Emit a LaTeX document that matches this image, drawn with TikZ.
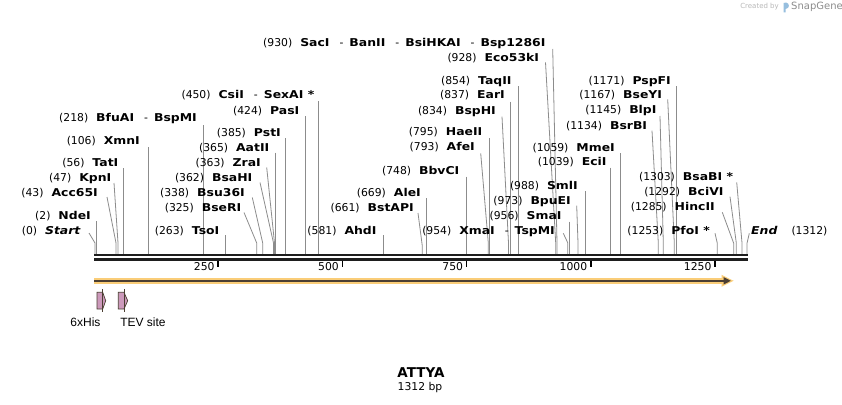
\documentclass[tikz,border=0pt]{standalone}
\usepackage{fontspec}
\setmainfont{DejaVu Sans}[BoldFeatures={FakeStretch=1.15},BoldItalicFeatures={FakeStretch=1.15}]
\newfontfamily\titlef{DejaVu Sans Bold}
\newfontfamily\arialf{Liberation Sans}
\definecolor{leadc}{RGB}{140,140,140}
\definecolor{bbc}{RGB}{30,30,30}
\definecolor{orangec}{RGB}{250,205,120}
\definecolor{featline}{RGB}{75,62,50}
\definecolor{pinkc}{RGB}{204,153,187}
\definecolor{logoc}{RGB}{150,190,222}
\tikzset{
  lab/.style={inner sep=0pt, text height=8pt, text depth=0pt, font=\fontsize{10.8}{12}\selectfont},
  lead/.style={draw=leadc, line width=0.8pt},
  tickm/.style={draw=black, line width=1.6pt},
  ticklab/.style={inner sep=0pt, text height=8pt, text depth=0pt, anchor=east, font=\fontsize{10.8}{12}\selectfont},
  featlab/.style={inner sep=0pt, font=\arialf\fontsize{12}{13}\selectfont},
  pinkfeat/.style={fill=pinkc, draw=featline, line width=0.7pt}
}
\newcommand\nm[1]{\textbf{#1}}
\newcommand\gap{\hspace{8pt}}
\newcommand\sep{\hspace{10pt}-\hspace{6pt}}
\begin{document}
\begin{tikzpicture}[x=1pt,y=-1pt]
\useasboundingbox (0,0) rectangle (842,404);
\fill[white] (0,0) rectangle (842,404);
% Created by SnapGene
\node[inner sep=0pt, anchor=east, text=black!28, font=\fontsize{7}{8}\selectfont] (cb) at (779,7) {Created by};
\fill[logoc] (783.5,12.5) -- (783.5,3) -- (786,2.5) .. controls (789.8,3) and (789.8,8.5) .. (786,8.8) -- (785.6,8.8) -- (785.6,12.5) -- cycle;
\node[inner sep=0pt, anchor=west, text=black!45, font=\fontsize{10}{11}\selectfont] (sg) at (791,7) {SnapGene};

% leader lines
\draw[lead] (89,233) -- (95,243) -- (95,254.5);
\draw[lead] (96,221) -- (96,254.5);
\draw[lead] (107,197) -- (116,243) -- (116,254.5);
\draw[lead] (114,183) -- (118,243) -- (118,254.5);
\draw[lead] (123,168) -- (123,254.5);
\draw[lead] (148,147) -- (148,254.5);
\draw[lead] (203,125) -- (203,254.5);
\draw[lead] (225.5,235) -- (225.5,254.5);
\draw[lead] (244,212.5) -- (256.7,243) -- (256.7,254.5);
\draw[lead] (252.3,197.5) -- (262.7,243) -- (262.7,254.5);
\draw[lead] (260,182.5) -- (273.5,243) -- (273.5,254.5);
\draw[lead] (266.7,167.5) -- (274.5,243) -- (274.5,254.5);
\draw[lead] (275.5,152.7) -- (275.5,254.5);
\draw[lead] (285.5,138) -- (285.5,254.5);
\draw[lead] (305.7,116) -- (305.7,254.5);
\draw[lead] (318.5,101) -- (318.5,254.5);
\draw[lead] (383.3,235) -- (383.3,254.5);
\draw[lead] (418,213) -- (422.3,246) -- (422.3,254.5);
\draw[lead] (426.5,198) -- (426.5,254.5);
\draw[lead] (466.5,176.5) -- (466.5,254.5);
\draw[lead] (480.7,153.3) -- (488.3,243) -- (488.3,254.5);
\draw[lead] (489.5,138.3) -- (489.5,254.5);
\draw[lead] (502,116.7) -- (508.5,243) -- (508.5,254.5);
\draw[lead] (510.7,101.7) -- (510.7,254.5);
\draw[lead] (518.7,86) -- (518.7,254.5);
\draw[lead] (552.7,49) -- (557,243) -- (557,254.5);
\draw[lead] (545.5,62.3) -- (555.7,243) -- (555.7,254.5);
\draw[lead] (563.3,233.3) -- (567.7,242.7) -- (567.7,254.5);
\draw[lead] (569.3,221.7) -- (569.3,254.5);
\draw[lead] (576.7,205.7) -- (578,243) -- (578,254.5);
\draw[lead] (585.3,191) -- (585.3,254.5);
\draw[lead] (610.7,167.7) -- (610.7,254.5);
\draw[lead] (620.3,153) -- (620.3,254.5);
\draw[lead] (652,130.7) -- (658.3,243) -- (658.3,254.5);
\draw[lead] (660,116) -- (663.3,243) -- (663.3,254.5);
\draw[lead] (667.7,99.3) -- (674.3,243) -- (674.3,254.5);
\draw[lead] (676,86) -- (676,254.5);
\draw[lead] (715,233.3) -- (717.3,243.3) -- (717.3,254.5);
\draw[lead] (722.3,212.3) -- (733.7,243.3) -- (733.7,254.5);
\draw[lead] (730,196.7) -- (736.3,243) -- (736.3,254.5);
\draw[lead] (736.7,182.3) -- (742,243) -- (742,254.5);
\draw[lead] (749.3,233.3) -- (747,243.3) -- (747,254.5);

% site labels
\node[lab,anchor=east] (s0) at (81,230) {(0)\gap\textbf{\textit{Start}}};
\node[lab,anchor=east] (s2) at (91,215) {(2)\gap\nm{NdeI}};
\node[lab,anchor=east] (s43) at (98,192) {(43)\gap\nm{Acc65I}};
\node[lab,anchor=east] (s47) at (111.5,177) {(47)\gap\nm{KpnI}};
\node[lab,anchor=east] (s56) at (118.5,162) {(56)\gap\nm{TatI}};
\node[lab,anchor=east] (s106) at (140,140) {(106)\gap\nm{XmnI}};
\node[lab,anchor=east] (s218) at (197,117) {(218)\gap\nm{BfuAI}\sep\nm{BspMI}};
\node[lab,anchor=east] (s263) at (219.5,230) {(263)\gap\nm{TsoI}};
\node[lab,anchor=east] (s325) at (241.5,207) {(325)\gap\nm{BseRI}};
\node[lab,anchor=east] (s338) at (245,192) {(338)\gap\nm{Bsu36I}};
\node[lab,anchor=east] (s362) at (252.5,177) {(362)\gap\nm{BsaHI}};
\node[lab,anchor=east] (s363) at (261,162) {(363)\gap\nm{ZraI}};
\node[lab,anchor=east] (s365) at (269.5,147) {(365)\gap\nm{AatII}};
\node[lab,anchor=east] (s385) at (281,132) {(385)\gap\nm{PstI}};
\node[lab,anchor=east] (s424) at (299.5,110.5) {(424)\gap\nm{PasI}};
\node[lab,anchor=east] (s450) at (314.5,94.5) {(450)\gap\nm{CsiI}\sep\nm{SexAI *}};
\node[lab,anchor=east] (s581) at (376.7,230) {(581)\gap\nm{AhdI}};
\node[lab,anchor=east] (s661) at (414,207) {(661)\gap\nm{BstAPI}};
\node[lab,anchor=east] (s669) at (421,192) {(669)\gap\nm{AleI}};
\node[lab,anchor=east] (s748) at (459.5,170) {(748)\gap\nm{BbvCI}};
\node[lab,anchor=east] (s793) at (475,146.7) {(793)\gap\nm{AfeI}};
\node[lab,anchor=east] (s795) at (482.5,131.7) {(795)\gap\nm{HaeII}};
\node[lab,anchor=east] (s834) at (496,110) {(834)\gap\nm{BspHI}};
\node[lab,anchor=east] (s837) at (505,94.7) {(837)\gap\nm{EarI}};
\node[lab,anchor=east] (s854) at (511.7,80) {(854)\gap\nm{TaqII}};
\node[lab,anchor=east] (s930) at (545.7,42.3) {(930)\gap\nm{SacI}\sep\nm{BanII}\sep\nm{BsiHKAI}\sep\nm{Bsp1286I}};
\node[lab,anchor=east] (s928) at (539.3,57.3) {(928)\gap\nm{Eco53kI}};
\node[lab,anchor=east] (s954) at (555,230) {(954)\gap\nm{XmaI}\sep\nm{TspMI}};
\node[lab,anchor=east] (s956) at (561.7,215) {(956)\gap\nm{SmaI}};
\node[lab,anchor=east] (s973) at (571,200) {(973)\gap\nm{BpuEI}};
\node[lab,anchor=east] (s988) at (578,185) {(988)\gap\nm{SmlI}};
\node[lab,anchor=east] (s1039) at (606.7,161.7) {(1039)\gap\nm{EciI}};
\node[lab,anchor=east] (s1059) at (615,147.3) {(1059)\gap\nm{MmeI}};
\node[lab,anchor=east] (s1134) at (647.3,125) {(1134)\gap\nm{BsrBI}};
\node[lab,anchor=east] (s1145) at (656.7,109.3) {(1145)\gap\nm{BlpI}};
\node[lab,anchor=east] (s1167) at (662.3,94.3) {(1167)\gap\nm{BseYI}};
\node[lab,anchor=east] (s1171) at (671,80) {(1171)\gap\nm{PspFI}};
\node[lab,anchor=east] (s1253) at (710,230) {(1253)\gap\nm{PfoI *}};
\node[lab,anchor=east] (s1285) at (715,206.7) {(1285)\gap\nm{HincII}};
\node[lab,anchor=east] (s1292) at (723.7,191.7) {(1292)\gap\nm{BciVI}};
\node[lab,anchor=east] (s1303) at (733.3,176.7) {(1303)\gap\nm{BsaBI *}};
\node[lab,anchor=west] (send) at (751,230) {\textbf{\textit{End}}\hspace{14pt}(1312)};

% backbone
\draw[bbc, line width=2pt] (94,255.3) -- (748.3,255.3);
\draw[bbc, line width=2.4pt] (94,259.5) -- (748.3,259.5);
% ticks
\foreach \tx/\tl in {218/250, 342.3/500, 466.5/750, 590.7/1000, 714.9/1250}{
  \draw[tickm] (\tx,260.7) -- (\tx,267.2);
  \node[ticklab] at (\tx-3.3,266.5) {\tl};
}

% ORF feature arrow
\draw[orangec, line width=6pt] (94,280.8) -- (725,280.8);
\fill[orangec] (721.5,274.8) -- (733.6,280.8) -- (721.5,286.8) -- cycle;
\draw[featline, line width=2pt] (94,280.8) -- (725,280.8);
\fill[featline] (723.5,277) -- (730.8,280.8) -- (723.5,284.6) -- cycle;

% small features
\draw[pinkfeat] (97,292.3) -- (102.7,292.3) -- (105.7,300.7) -- (102.7,309) -- (97,309) -- cycle;
\draw[featline, line width=0.7pt] (102.7,289) -- (102.7,312);
\draw[pinkfeat] (118.3,292.3) -- (124,292.3) -- (127.7,300.7) -- (124,309) -- (118.3,309) -- cycle;
\draw[featline, line width=0.7pt] (124,289) -- (124,312);
\node[featlab] (f1) at (85.5,322.7) {6xHis};
\node[featlab] (f2) at (143,322.7) {TEV site};

% title
\node[inner sep=0pt, font=\titlef\fontsize{13.5}{15}\selectfont] (title) at (421,373) {ATTYA};
\node[inner sep=0pt, font=\fontsize{10.8}{12}\selectfont] (len) at (420,387.5) {1312 bp};
\end{tikzpicture}
\end{document}
